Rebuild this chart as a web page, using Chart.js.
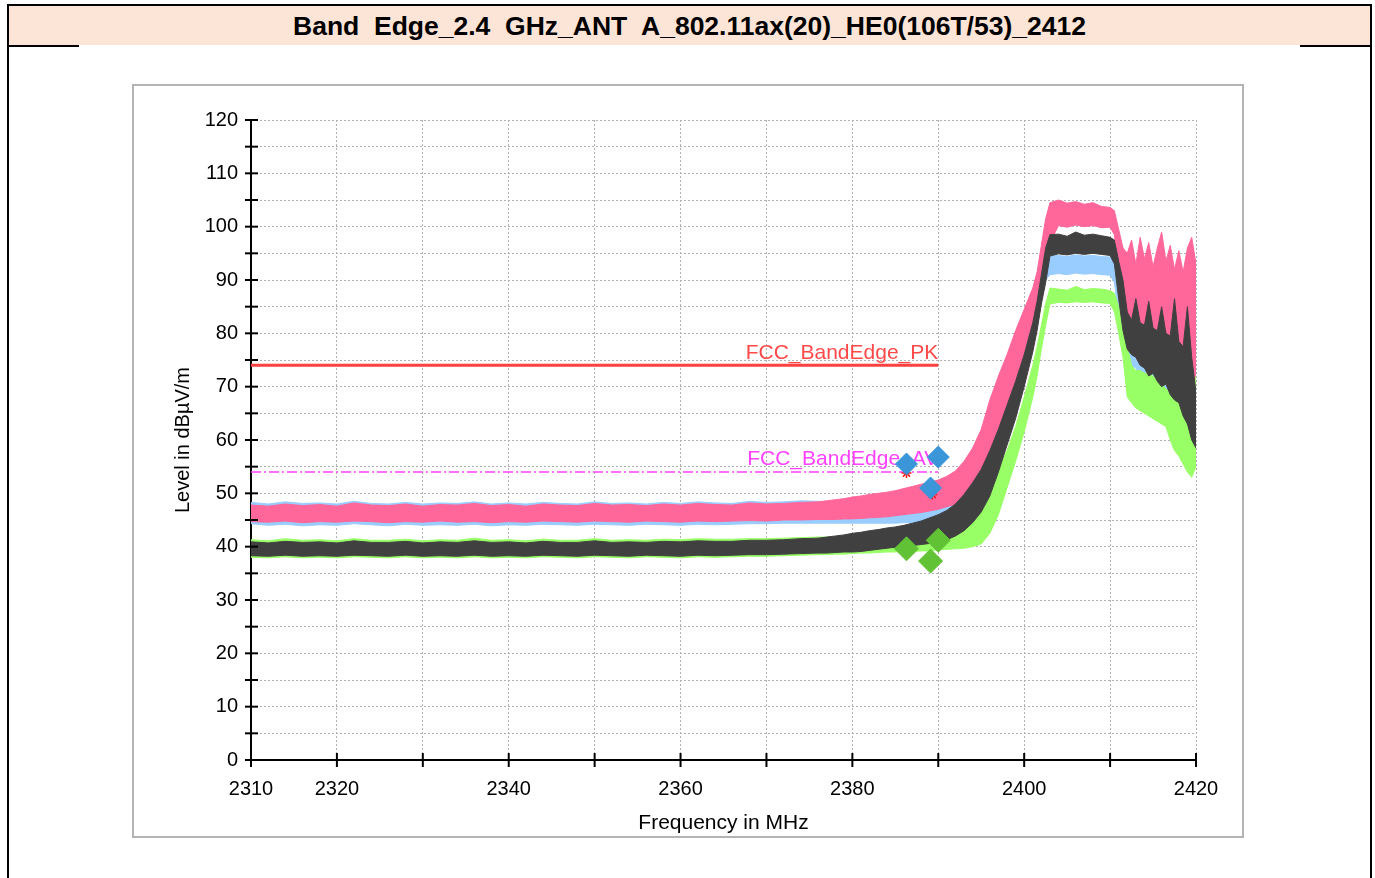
<!DOCTYPE html>
<html>
<head>
<meta charset="utf-8">
<script src="https://cdn.jsdelivr.net/npm/chart.js@4.4.0/dist/chart.umd.min.js"></script>
<style>
  html, body { margin: 0; padding: 0; background: #fff; }
  body { width: 1375px; height: 878px; position: relative; overflow: hidden; font-family: "Liberation Sans", Arial, sans-serif; }
  #frame { position: absolute; left: 7px; top: 4px; width: 1361px; height: 900px; border: 2px solid #000; border-bottom: none; }
  #title { position: absolute; left: 0; top: 0; width: 100%; height: 39px; background: #fce4d6; text-align: center; font-weight: bold; font-size: 26.5px; line-height: 40px; white-space: pre; color: #000; }
  .rule { position: absolute; top: 39px; height: 2px; width: 70px; background: #000; }
  #panel { position: absolute; left: 132px; top: 84px; width: 1108px; height: 750px; border: 2px solid #b4b4b4; background: #fff; }
  #chart { position: absolute; left: 0; top: 0; }
</style>
</head>
<body>
<div id="frame">
  <div id="title">Band  Edge_2.4  GHz_ANT  A_802.11ax(20)_HE0(106T/53)_2412</div>
  <div class="rule" style="left:0"></div>
  <div class="rule" style="right:0"></div>
</div>
<div id="panel"><canvas id="chart" width="1108" height="750"></canvas></div>
<script>
// frequency points in MHz
const freq = [
  2310, 2312, 2314, 2316, 2318, 2320, 2322, 2324, 2326, 2328,
  2330, 2332, 2334, 2336, 2338, 2340, 2342, 2344, 2346, 2348,
  2350, 2352, 2354, 2356, 2358, 2360, 2362, 2364, 2366, 2368,
  2370, 2372, 2374, 2376,
  2377, 2378, 2379, 2380, 2381, 2382, 2383, 2384, 2385, 2386, 2387, 2388, 2389,
  2390, 2391, 2392, 2393, 2394, 2395, 2396, 2397, 2398, 2399, 2400, 2401,
  2401.5, 2402, 2402.5, 2403,
  2404, 2405, 2406, 2407, 2408, 2409, 2410,
  2410.5, 2411, 2411.5,
  2412, 2412.5, 2413, 2413.5, 2414, 2414.5, 2415, 2415.5, 2416, 2416.5,
  2417, 2417.5, 2418, 2418.5, 2419, 2419.5, 2420
];

// peak trace (pink) upper / lower edge, dBuV/m
const pinkHi = [
  47.8, 47.6, 48.0, 47.7, 47.9, 47.6, 48.2, 47.8, 47.7, 48.0,
  47.6, 47.9, 47.8, 48.1, 47.7, 47.9, 47.6, 48.0, 47.8, 47.7,
  48.1, 47.8, 47.9, 47.7, 48.0, 47.8, 48.1, 47.9, 47.8, 48.2,
  48.0, 48.1, 48.3, 48.4,
  48.6, 48.8, 49.0, 49.3, 49.5, 49.8, 50.0, 50.2, 50.5, 50.9, 51.3, 51.7, 52.1,
  52.5, 53.2, 54.2, 56.0, 58.5, 62.0, 67.5, 72.0, 76.0, 80.5, 84.5, 88.5,
  91.5, 96.5, 101.5, 104.5,
  105.0, 104.4, 104.7, 104.2, 104.5, 103.8, 103.6,
  103.0, 99.5, 96.0,
  95.0, 97.5, 93.0, 98.0, 94.0, 97.0, 92.5, 96.0, 99.0, 93.5,
  96.5, 92.0, 95.5, 91.5, 96.0, 98.0, 93.0
];
const pinkLo = [
  44.7, 44.6, 44.8, 44.5, 44.7, 44.6, 44.8, 44.7, 44.5, 44.7,
  44.6, 44.8, 44.6, 44.7, 44.5, 44.7, 44.6, 44.8, 44.7, 44.6,
  44.8, 44.7, 44.6, 44.8, 44.7, 44.6, 44.8, 44.7, 44.8, 44.9,
  44.8, 45.0, 45.0, 45.1,
  45.1, 45.1, 45.2, 45.2, 45.3, 45.4, 45.5, 45.6, 45.8, 46.0, 46.2, 46.4, 46.7,
  47.0, 47.5, 48.0, 48.6, 50.0, 52.0, 55.0, 59.0, 63.5, 69.0, 75.0, 80.0,
  82.5, 86.5, 91.5, 97.0,
  100.2, 99.9, 100.3, 100.0, 100.2, 99.8, 99.9,
  98.5, 91.0, 84.0,
  83.0, 82.5, 82.0, 82.0, 81.5, 81.0, 81.0, 80.5, 80.0, 79.5,
  79.0, 78.5, 77.0, 75.5, 73.0, 69.0, 66.0
];

// light blue trace
const blueHi = [
  48.3, 48.0, 48.4, 48.1, 48.2, 48.0, 48.5, 48.1, 48.0, 48.3,
  48.0, 48.2, 48.1, 48.4, 48.0, 48.2, 48.0, 48.3, 48.1, 48.0,
  48.4, 48.1, 48.2, 48.0, 48.3, 48.1, 48.4, 48.2, 48.1, 48.5,
  48.3, 48.4, 48.6, 48.5,
  48.4, 48.5, 48.6, 48.7, 48.8, 48.9, 49.0, 49.1, 49.2, 49.4, 49.6, 49.8, 50.0,
  50.3, 50.8, 51.5, 52.5, 54.5, 57.5, 62.0, 66.0, 70.5, 75.0, 80.0, 85.0,
  88.0, 91.5, 94.0, 94.5,
  94.6, 94.4, 94.7, 94.5, 94.6, 94.4, 94.3,
  93.5, 90.0, 86.5,
  83.0, 81.5, 80.5, 80.0, 80.0, 79.5, 79.0, 78.0, 78.0, 77.5,
  77.0, 76.0, 75.5, 75.0, 74.0, 72.0, 66.0
];
const blueLo = [
  44.3, 44.0, 44.2, 43.9, 44.1, 44.0, 44.3, 44.1, 43.9, 44.2,
  44.0, 44.1, 44.0, 44.2, 43.9, 44.1, 44.0, 44.2, 44.1, 44.0,
  44.2, 44.1, 44.0, 44.2, 44.1, 44.0, 44.2, 44.1, 44.2, 44.3,
  44.3, 44.4, 44.4, 44.4,
  44.4, 44.4, 44.4, 44.4, 44.4, 44.4, 44.4, 44.4, 44.4, 44.5, 44.5, 44.6, 44.6,
  44.7, 45.0, 45.5, 46.2, 47.5, 49.5, 53.0, 57.0, 61.5, 66.5, 72.0, 78.0,
  82.0, 86.5, 90.0, 91.0,
  91.2, 91.0, 91.3, 91.1, 91.2, 91.0, 90.9,
  89.5, 83.5, 78.0,
  75.0, 74.0, 73.5, 72.0, 71.5, 70.0, 70.5, 69.0, 68.0, 68.0,
  66.0, 65.0, 64.5, 62.0, 61.0, 59.0, 57.5
];

// dark grey trace
const greyHi = [
  40.9, 40.7, 41.0, 40.8, 40.9, 40.7, 41.1, 40.8, 40.8, 41.0,
  40.7, 40.9, 40.8, 41.1, 40.8, 40.9, 40.7, 41.0, 40.8, 40.8,
  41.1, 40.8, 40.9, 40.8, 41.0, 40.9, 41.1, 41.0, 41.0, 41.2,
  41.2, 41.3, 41.5, 41.6,
  41.8, 42.0, 42.2, 42.5, 42.7, 43.0, 43.2, 43.5, 43.7, 44.0, 44.4, 44.8, 45.4,
  46.0, 46.8, 48.0, 49.8, 52.0, 54.5, 58.0, 62.0, 66.5, 71.0, 76.0, 82.0,
  86.0, 91.0, 96.0, 98.5,
  98.6, 98.2, 99.0, 98.4, 98.6, 98.3, 98.0,
  97.5, 93.5, 90.0,
  84.0, 82.5, 86.5, 82.0, 81.5, 86.0, 81.0, 80.5, 85.0, 80.0,
  79.5, 86.5, 78.5, 77.5, 85.0, 75.5, 69.0
];
const greyLo = [
  38.3, 38.2, 38.4, 38.2, 38.3, 38.2, 38.4, 38.3, 38.2, 38.4,
  38.2, 38.3, 38.2, 38.4, 38.2, 38.3, 38.2, 38.4, 38.3, 38.2,
  38.4, 38.3, 38.2, 38.4, 38.3, 38.2, 38.4, 38.3, 38.4, 38.5,
  38.5, 38.6, 38.7, 38.8,
  38.8, 38.9, 39.0, 39.0, 39.1, 39.3, 39.5, 39.7, 39.9, 40.0, 40.2, 40.4, 40.6,
  40.8, 41.3, 42.0, 43.0, 44.5, 46.5, 49.5, 54.0, 59.0, 64.0, 70.0, 76.5,
  80.5, 85.5, 89.5, 94.5,
  94.9, 94.7, 95.0, 94.8, 95.0, 94.8, 94.6,
  93.0, 86.5, 80.5,
  77.0, 76.0, 75.5, 74.0, 73.5, 72.0, 72.5, 71.0, 70.0, 70.5,
  68.5, 67.5, 67.0, 64.5, 63.0, 60.0, 58.5
];

// light green trace
const greenHi = [
  41.3, 41.1, 41.5, 41.2, 41.3, 41.1, 41.5, 41.2, 41.2, 41.4,
  41.1, 41.3, 41.2, 41.6, 41.2, 41.3, 41.1, 41.4, 41.2, 41.2,
  41.5, 41.2, 41.3, 41.2, 41.4, 41.3, 41.5, 41.4, 41.4, 41.5,
  41.5, 41.6, 41.7, 41.8,
  41.8, 41.8, 41.9, 41.9, 42.0, 42.0, 42.1, 42.1, 42.2, 42.2, 42.3, 42.3, 42.4,
  42.5, 42.7, 43.2, 44.5, 46.5, 48.5, 51.5, 54.5, 58.0, 62.5, 68.0, 74.0,
  77.5, 81.5, 85.5, 88.5,
  88.3, 88.1, 88.8, 88.2, 88.4, 88.3, 88.0,
  87.5, 85.0, 81.5,
  77.5, 74.0, 73.0, 73.0, 72.5, 72.5, 72.0, 71.5, 70.5, 69.5,
  69.0, 68.0, 67.0, 66.0, 65.0, 64.0, 72.0
];
const greenLo = [
  38.0, 37.9, 38.1, 37.9, 38.0, 37.9, 38.1, 38.0, 37.9, 38.1,
  37.9, 38.0, 37.9, 38.1, 37.9, 38.0, 37.9, 38.1, 38.0, 37.9,
  38.1, 38.0, 37.9, 38.1, 38.0, 37.9, 38.1, 38.0, 38.1, 38.2,
  38.2, 38.3, 38.4, 38.5,
  38.5, 38.6, 38.6, 38.7, 38.8, 38.8, 38.9, 39.0, 39.0, 39.1, 39.1, 39.2, 39.2,
  39.4, 39.5, 39.6, 39.7, 40.0, 40.5, 42.5, 46.0, 51.0, 56.0, 61.5, 68.0,
  72.0, 77.0, 81.5, 85.5,
  85.8, 85.7, 85.9, 85.8, 85.9, 85.7, 85.6,
  84.0, 80.0, 75.5,
  68.0, 67.0, 66.0, 65.5, 65.0, 64.5, 64.0, 63.5, 63.0, 62.5,
  60.0, 58.0, 57.0, 55.5, 54.0, 53.0, 55.0
];

// limit lines
const limitFreq = [2310, 2390];
const pkLimit = [74, 74];
const avLimit = [54, 54];
const limitNames = ['FCC_BandEdge_PK', 'FCC_BandEdge_AV'];

// markers
const markerFreq = [2386.3, 2390.0, 2389.1];
const pkMarkers = [55.5, 56.8, 51.0];
const avMarkers = [39.6, 41.2, 37.3];
const starFreq = [2386.3, 2389.3];
const starLevel = [53.8, 49.8];

// axes
const xTickLabels = [2310, 2320, 2340, 2360, 2380, 2400, 2420];
const yTickLabels = [0, 10, 20, 30, 40, 50, 60, 70, 80, 90, 100, 110, 120];
const xTitle = 'Frequency in MHz';
const yTitle = 'Level in dB\u00b5V/m';

const tickFont = '"Liberation Sans Narrow", "Liberation Sans", sans-serif';

function pts(xs, ys) {
  return xs.map((f, i) => ({ x: f, y: ys[i] }));
}

function band(name, hi, lo, color) {
  return [
    { label: name + ' max', data: pts(freq, hi), borderColor: color, backgroundColor: color,
      borderWidth: 1, fill: '+1', pointRadius: 0 },
    { label: name + ' min', data: pts(freq, lo), borderColor: color, backgroundColor: color,
      borderWidth: 1, fill: false, pointRadius: 0 }
  ];
}

// draws tick marks crossing both axes
const tickMarks = {
  id: 'tickMarks',
  afterDraw(chart) {
    const { ctx, scales: { x, y } } = chart;
    ctx.save();
    ctx.strokeStyle = '#000';
    ctx.lineWidth = 2;
    x.ticks.forEach(t => {
      const px = x.getPixelForValue(t.value);
      ctx.beginPath();
      ctx.moveTo(px, y.bottom - 7);
      ctx.lineTo(px, y.bottom + 7);
      ctx.stroke();
    });
    y.ticks.forEach(t => {
      const py = y.getPixelForValue(t.value);
      ctx.beginPath();
      ctx.moveTo(x.left - 6, py);
      ctx.lineTo(x.left + 7, py);
      ctx.stroke();
    });
    ctx.restore();
  }
};

// limit line names
const limitLabels = {
  id: 'limitLabels',
  beforeDatasetsDraw(chart) {
    const { ctx, scales: { x, y } } = chart;
    const px = x.getPixelForValue(limitFreq[1]);
    ctx.save();
    ctx.font = '21px "Liberation Sans", sans-serif';
    ctx.textAlign = 'right';
    ctx.textBaseline = 'bottom';
    ctx.fillStyle = '#ff4848';
    ctx.fillText(limitNames[0], px, y.getPixelForValue(pkLimit[1]) - 2);
    ctx.fillStyle = '#ff40ff';
    ctx.fillText(limitNames[1], px, y.getPixelForValue(avLimit[1]) - 2);
    ctx.restore();
  }
};

const datasets = [
  { label: 'PK markers', data: pts(markerFreq, pkMarkers), showLine: false, pointStyle: 'rectRot',
    pointRadius: 11, backgroundColor: '#3b95d9', borderColor: '#3b95d9', borderWidth: 1 },
  { label: 'AV markers', data: pts(markerFreq, avMarkers), showLine: false, pointStyle: 'rectRot',
    pointRadius: 12, backgroundColor: '#62c236', borderColor: '#62c236', borderWidth: 1 },
  { label: 'stars', data: pts(starFreq, starLevel), showLine: false, pointStyle: 'star',
    pointRadius: 5, borderColor: '#ff1010', borderWidth: 1.5 },
  { label: limitNames[0], data: pts(limitFreq, pkLimit), borderColor: '#ff4040', borderWidth: 3,
    pointRadius: 0, fill: false },
  { label: limitNames[1], data: pts(limitFreq, avLimit), borderColor: '#ff40ff', borderWidth: 1.5,
    borderDash: [10, 3, 2, 3], pointRadius: 0, fill: false },
  ...band('grey', greyHi, greyLo, '#404040'),
  ...band('green', greenHi, greenLo, '#99ff66'),
  ...band('pink', pinkHi, pinkLo, '#ff6699'),
  ...band('blue', blueHi, blueLo, '#99ccff')
];

new Chart(document.getElementById('chart').getContext('2d'), {
  type: 'line',
  data: { datasets: datasets },
  options: {
    responsive: false,
    animation: false,
    events: [],
    layout: { padding: { left: 0, top: 34, right: 46, bottom: 0 } },
    plugins: {
      legend: { display: false },
      tooltip: { enabled: false },
      filler: { drawTime: 'beforeDatasetDraw' }
    },
    scales: {
      x: {
        type: 'linear', min: 2310, max: 2420,
        afterFit: s => { s.height = 76; },
        ticks: {
          stepSize: 10, autoSkip: false, maxRotation: 0, padding: 17, color: '#000',
          font: { family: tickFont, size: 20 },
          callback: v => xTickLabels.includes(v) ? String(v) : ''
        },
        grid: { color: '#b0b0b0', lineWidth: 1, drawTicks: false },
        border: { display: true, color: '#000', width: 2, dash: [2, 2] },
        title: { display: true, text: xTitle, color: '#000',
                 font: { family: '"Liberation Sans", sans-serif', size: 21 }, padding: 0 }
      },
      y: {
        type: 'linear', min: 0, max: 120,
        afterFit: s => { s.width = 117; },
        ticks: {
          stepSize: 5, autoSkip: false, padding: 13, color: '#000',
          font: { family: tickFont, size: 20 },
          callback: v => yTickLabels.includes(v) ? String(v) : ''
        },
        grid: { color: '#b0b0b0', lineWidth: 1, drawTicks: false },
        border: { display: true, color: '#000', width: 2, dash: [2, 2] },
        title: { display: true, text: yTitle, color: '#000',
                 font: { family: '"Liberation Sans", sans-serif', size: 20 }, padding: { top: 37 } }
      }
    }
  },
  plugins: [tickMarks, limitLabels]
});
</script>
</body>
</html>
